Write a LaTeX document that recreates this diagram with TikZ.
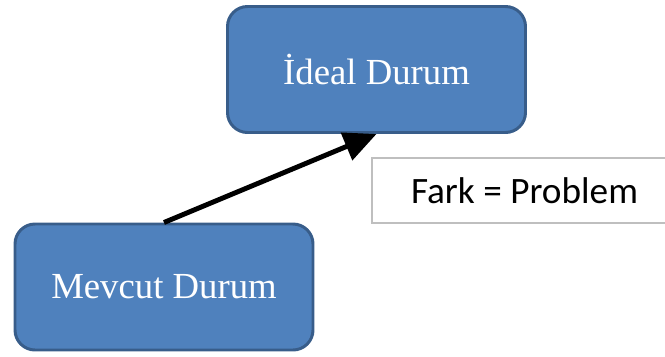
\documentclass[tikz,border=0pt]{standalone}
\usepackage{fontspec}
\setmainfont{Liberation Serif}
\newfontfamily\labelfont{Carlito}
\usetikzlibrary{arrows.meta}
\definecolor{boxblue}{HTML}{4F81BD}
\definecolor{boxedge}{HTML}{385D8A}
\definecolor{noteedge}{HTML}{BFBFBF}
\tikzset{durum/.style = {draw=boxedge, fill=boxblue, line width=1.7pt,
                         rounded corners=0.4cm, minimum width=5.96cm,
                         minimum height=2.52cm, text=white,
                         font=\fontsize{20.9}{25}\selectfont}}
\tikzset{note/.style = {draw=noteedge, fill=white, line width=0.8pt,
                        minimum width=6.1cm, minimum height=1.3cm,
                        font=\labelfont\fontsize{21.2}{25}\selectfont}}
\tikzset{fark/.style = {line width=2.8pt,
                        -{Triangle[length=18.5pt, width=16.5pt]}}}

\begin{document}
\begin{tikzpicture}
        \useasboundingbox (0,0) rectangle (13.3,7.12);
        \node[durum] (ideal) at (7.53,5.73) {İdeal Durum};
        \node[durum] (mevcut) at (3.28,1.38) {Mevcut Durum};
        \node[note] (problem) at (10.49,3.31) {Fark = Problem};
        \draw[fark] (mevcut.north) -- (ideal.south);
      \end{tikzpicture}
\end{document}
